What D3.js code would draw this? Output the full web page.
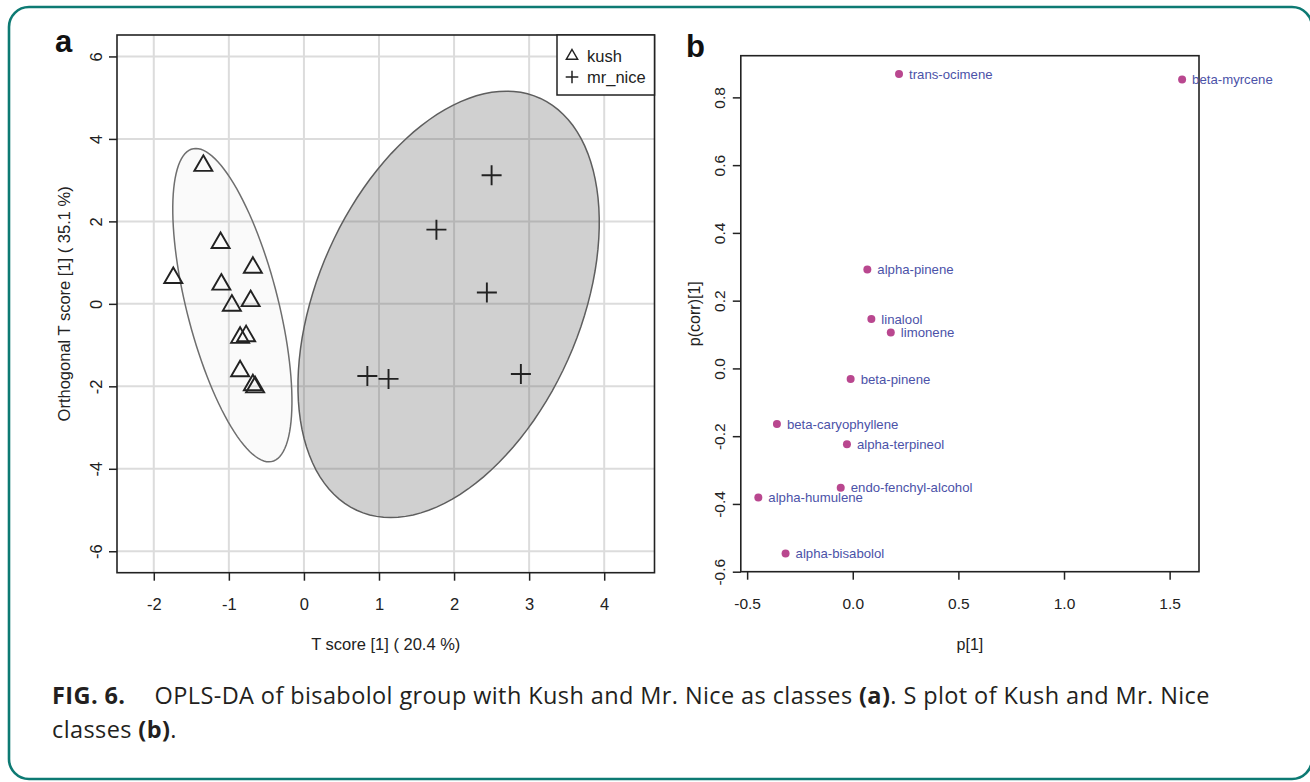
<!DOCTYPE html>
<html>
<head>
<meta charset="utf-8">
<script src="https://cdn.jsdelivr.net/npm/d3@7"></script>
<style>
  html, body { margin: 0; padding: 0; background: #fff; }
  svg { display: block; }
  text { font-family: "Liberation Sans", Arial, Helvetica, sans-serif; }
  .cap { font-family: "Open Sans", "Noto Sans", sans-serif; letter-spacing: 0.4px; }
</style>
</head>
<body>
<svg id="chart" width="1310" height="782"></svg>
<script>
// ---------- DATA ----------
// Panel a: OPLS-DA scores
const kushX = [-1.34, -1.11, -0.68, -1.74, -1.10, -0.96, -0.71, -0.85, -0.77, -0.85, -0.68, -0.65];
const kushY = [3.35, 1.48, 0.88, 0.63, 0.47, -0.04, 0.07, -0.82, -0.78, -1.63, -1.97, -2.02];
const mrNiceX = [2.50, 1.765, 2.437, 0.845, 1.127, 2.89];
const mrNiceY = [3.12, 1.80, 0.276, -1.75, -1.82, -1.70];
// ellipse conjugate semi-axes (data units), centred on class means
const kushEllipse = { ux: -0.487, uy: 3.80, vx: 0.627, vy: 0 };
const mrNiceEllipse = { ux: 0.771, uy: 5.17, vx: 1.853, vy: 0 };
const xTicksA = [-2, -1, 0, 1, 2, 3, 4];
const yTicksA = [-6, -4, -2, 0, 2, 4, 6];
const legendLabels = ["kush", "mr_nice"];

// Panel b: S plot
const compounds = ["trans-ocimene", "beta-myrcene", "alpha-pinene", "linalool", "limonene",
  "beta-pinene", "beta-caryophyllene", "alpha-terpineol", "endo-fenchyl-alcohol",
  "alpha-humulene", "alpha-bisabolol"];
const p1 = [0.219, 1.559, 0.069, 0.088, 0.180, -0.010, -0.359, -0.0275, -0.057, -0.447, -0.318];
const pcorr = [0.869, 0.853, 0.292, 0.1455, 0.106, -0.0316, -0.164, -0.224, -0.352, -0.381, -0.546];
const xTicksB = [-0.5, 0.0, 0.5, 1.0, 1.5];
const yTicksB = [-0.6, -0.4, -0.2, 0.0, 0.2, 0.4, 0.6, 0.8];

// ---------- DRAW ----------
const svg = d3.select("#chart");
const ink = "#222";

// outer frame
svg.append("rect").attr("x", 9).attr("y", 7).attr("width", 1303).attr("height", 772)
  .attr("rx", 20).attr("fill", "none").attr("stroke", "#0d7a73").attr("stroke-width", 2.6);

// ===== Panel a =====
const A = { l: 117, r: 654.5, t: 35, b: 572.7 };
const xA = d3.scaleLinear().domain([-2.49, 4.67]).range([A.l, A.r]);
const yA = d3.scaleLinear().domain([-6.52, 6.52]).range([A.b, A.t]);
const ga = svg.append("g");

// grid
ga.selectAll(".gx").data(xTicksA).join("line")
  .attr("x1", d => xA(d)).attr("x2", d => xA(d)).attr("y1", A.t).attr("y2", A.b)
  .attr("stroke", "#dcdcdc").attr("stroke-width", 2);
ga.selectAll(".gy").data(yTicksA).join("line")
  .attr("y1", d => yA(d)).attr("y2", d => yA(d)).attr("x1", A.l).attr("x2", A.r)
  .attr("stroke", "#dcdcdc").attr("stroke-width", 2);

function ellipsePath(xs, ys, e) {
  const cx = d3.mean(xs), cy = d3.mean(ys);
  const ts = d3.range(0, 121).map(i => 2 * Math.PI * i / 120);
  return d3.line()
    .x(t => xA(cx + e.ux * Math.cos(t) + e.vx * Math.sin(t)))
    .y(t => yA(cy + e.uy * Math.cos(t) + e.vy * Math.sin(t)))(ts);
}
ga.append("path").attr("d", ellipsePath(kushX, kushY, kushEllipse))
  .attr("fill", "rgba(180,180,180,0.07)").attr("stroke", "#6e6e6e").attr("stroke-width", 1.5);
ga.append("path").attr("d", ellipsePath(mrNiceX, mrNiceY, mrNiceEllipse))
  .attr("fill", "rgba(83,83,83,0.27)").attr("stroke", "#5e5e5e").attr("stroke-width", 1.5);

function triPath(r) {
  const h = r * 0.866;
  return `M0,${-r}L${h},${r / 2}L${-h},${r / 2}Z`;
}
function plusPath(h) {
  return `M${-h},0H${h}M0,${-h}V${h}`;
}
ga.selectAll(".tri").data(d3.range(kushX.length)).join("path")
  .attr("transform", i => `translate(${xA(kushX[i])},${yA(kushY[i])})`)
  .attr("d", triPath(10.4)).attr("fill", "none").attr("stroke", ink).attr("stroke-width", 1.9);
ga.selectAll(".plus").data(d3.range(mrNiceX.length)).join("path")
  .attr("transform", i => `translate(${xA(mrNiceX[i])},${yA(mrNiceY[i])})`)
  .attr("d", plusPath(10)).attr("fill", "none").attr("stroke", ink).attr("stroke-width", 1.9);

// box
ga.append("rect").attr("x", A.l).attr("y", A.t).attr("width", A.r - A.l).attr("height", A.b - A.t)
  .attr("fill", "none").attr("stroke", ink).attr("stroke-width", 1.6);

// axes
const axA = ga.append("g").attr("transform", `translate(0,${A.b})`)
  .call(d3.axisBottom(xA).tickValues(xTicksA).tickSize(8).tickSizeOuter(0));
const ayA = ga.append("g").attr("transform", `translate(${A.l},0)`)
  .call(d3.axisLeft(yA).tickValues(yTicksA).tickSize(8).tickSizeOuter(0));

function styleAxes(axX, axY, fs) {
  [axX, axY].forEach(ax => {
    ax.select(".domain").remove();
    ax.selectAll("line").attr("stroke", ink).attr("stroke-width", 1.5);
    ax.selectAll("text").attr("fill", ink).style("font-size", fs + "px");
  });
  axX.selectAll("text").attr("y", 32).attr("dy", "0.35em");
  axY.selectAll("text").attr("transform", "rotate(-90)").attr("x", 0).attr("y", -21)
    .attr("dy", "0.35em").attr("text-anchor", "middle");
}
styleAxes(axA, ayA, 16.5);
axA.selectAll("text").text(d => String(d));
ayA.selectAll("text").text(d => String(d));

// titles
ga.append("text").attr("x", (A.l + A.r) / 2).attr("y", 650).attr("text-anchor", "middle")
  .attr("fill", ink).style("font-size", "16.5px").text("T score [1] ( 20.4 %)");
ga.append("text").attr("transform", `translate(70,${(A.t + A.b) / 2}) rotate(-90)`)
  .attr("text-anchor", "middle").attr("fill", ink).style("font-size", "16.5px")
  .text("Orthogonal T score [1] ( 35.1 %)");
ga.append("text").attr("x", 55).attr("y", 52).attr("fill", "#111")
  .style("font-size", "31px").style("font-weight", "bold").text("a");

// legend
const lg = ga.append("g");
lg.append("rect").attr("x", 557).attr("y", A.t).attr("width", A.r - 557).attr("height", 60)
  .attr("fill", "#fff").attr("stroke", ink).attr("stroke-width", 1.5);
const legY = [56, 77];
lg.selectAll(".lsym").data(legendLabels).join("path")
  .attr("transform", (d, i) => `translate(572,${legY[i]})`)
  .attr("d", (d, i) => i === 0 ? triPath(6.5) : plusPath(6.3))
  .attr("fill", "none").attr("stroke", ink).attr("stroke-width", 1.5);
lg.selectAll(".ltxt").data(legendLabels).join("text")
  .attr("x", 587).attr("y", (d, i) => legY[i]).attr("dy", "0.35em")
  .attr("fill", ink).style("font-size", "16.5px").text(d => d);

// ===== Panel b =====
const B = { l: 740.8, r: 1199, t: 55.7, b: 571.7 };
const xB = d3.scaleLinear().domain([-0.53, 1.639]).range([B.l, B.r]);
const yB = d3.scaleLinear().domain([-0.600, 0.923]).range([B.b, B.t]);
const gb = svg.append("g");

gb.append("rect").attr("x", B.l).attr("y", B.t).attr("width", B.r - B.l).attr("height", B.b - B.t)
  .attr("fill", "none").attr("stroke", ink).attr("stroke-width", 1.6);

const axB = gb.append("g").attr("transform", `translate(0,${B.b})`)
  .call(d3.axisBottom(xB).tickValues(xTicksB).tickSize(8).tickSizeOuter(0));
const ayB = gb.append("g").attr("transform", `translate(${B.l},0)`)
  .call(d3.axisLeft(yB).tickValues(yTicksB).tickSize(8).tickSizeOuter(0));
styleAxes(axB, ayB, 15.5);
axB.selectAll("text").text(d => d.toFixed(1));
ayB.selectAll("text").text(d => d.toFixed(1));

gb.selectAll(".pt").data(d3.range(compounds.length)).join("circle")
  .attr("cx", i => xB(p1[i])).attr("cy", i => yB(pcorr[i])).attr("r", 4)
  .attr("fill", "#b9478f");
gb.selectAll(".lab").data(d3.range(compounds.length)).join("text")
  .attr("x", i => xB(p1[i]) + 10).attr("y", i => yB(pcorr[i])).attr("dy", "0.35em")
  .attr("fill", "#4b52a8").style("font-size", "13.2px").text(i => compounds[i]);

gb.append("text").attr("x", (B.l + B.r) / 2).attr("y", 650).attr("text-anchor", "middle")
  .attr("fill", ink).style("font-size", "16px").text("p[1]");
gb.append("text").attr("transform", `translate(700,${(B.t + B.b) / 2}) rotate(-90)`)
  .attr("text-anchor", "middle").attr("fill", ink).style("font-size", "16px").text("p(corr)[1]");
gb.append("text").attr("x", 686).attr("y", 57).attr("fill", "#111")
  .style("font-size", "31px").style("font-weight", "bold").text("b");

// ===== Caption =====
const cap = svg.append("text").attr("class", "cap").attr("x", 52).attr("y", 704)
  .attr("fill", "#231f20").style("font-size", "23.5px");
cap.append("tspan").style("font-weight", "bold").text("FIG. 6.");
cap.append("tspan").attr("x", 154.5).text("OPLS-DA of bisabolol group with Kush and Mr. Nice as classes ");
cap.append("tspan").style("font-weight", "bold").text("(a)");
cap.append("tspan").text(". S plot of Kush and Mr. Nice");
const cap2 = svg.append("text").attr("class", "cap").attr("x", 52).attr("y", 738)
  .attr("fill", "#231f20").style("font-size", "23.5px");
cap2.append("tspan").text("classes ");
cap2.append("tspan").style("font-weight", "bold").text("(b)");
cap2.append("tspan").text(".");
</script>
</body>
</html>
